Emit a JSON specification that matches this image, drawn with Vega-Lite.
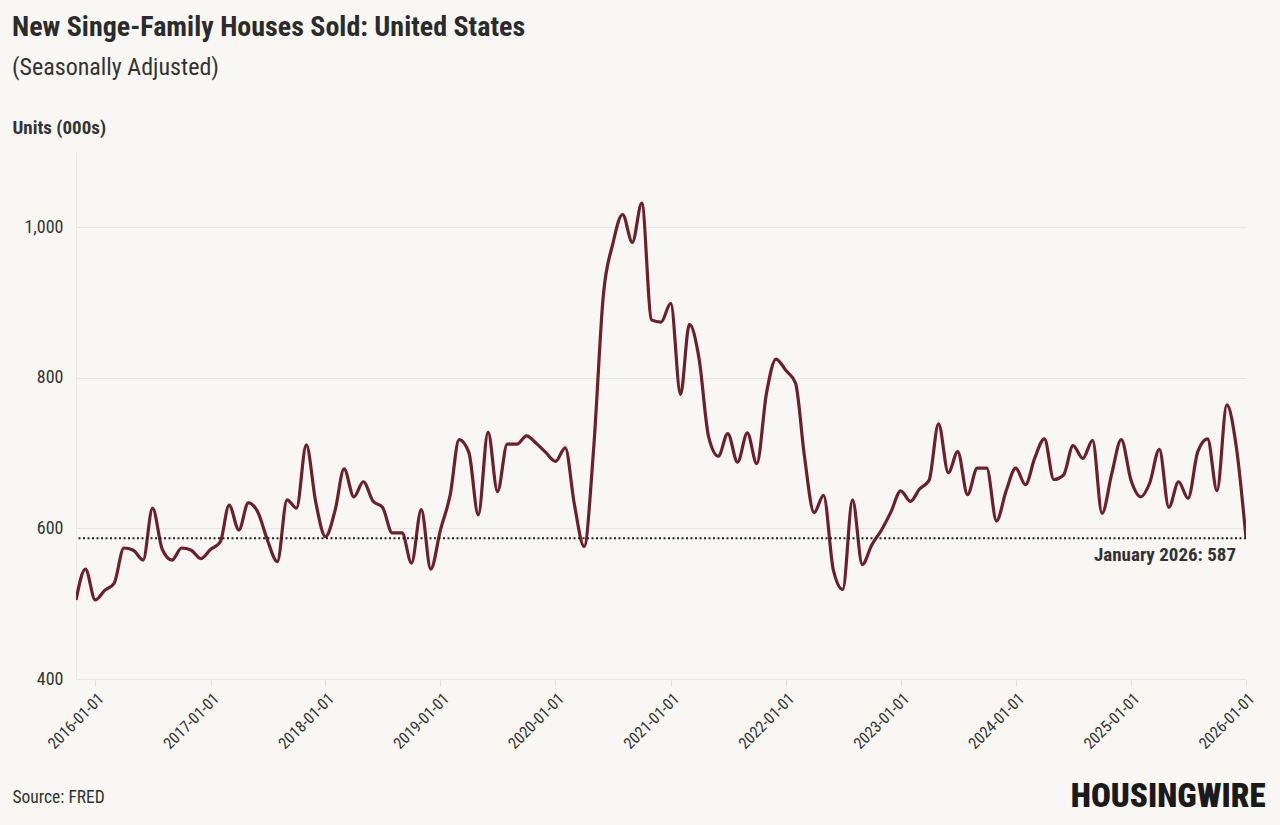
{
  "$schema": "https://vega.github.io/schema/vega-lite/v6.json",
  "width": 1170,
  "height": 527,
  "autosize": "none",
  "padding": {"left": 76, "top": 152, "right": 34, "bottom": 146},
  "background": "#f8f7f4",
  "config": {
    "font": "Roboto Condensed, Liberation Sans Narrow, Roboto",
    "view": {"stroke": null}
  },
  "title": {
    "text": "New Singe-Family Houses Sold: United States",
    "subtitle": "(Seasonally Adjusted)",
    "anchor": "start",
    "frame": "group",
    "dx": -64,
    "offset": 38,
    "fontSize": 28,
    "fontWeight": "bold",
    "color": "#2b2b2b",
    "subtitleFontSize": 24,
    "subtitleColor": "#333333",
    "subtitlePadding": 14
  },
  "datasets": {
    "sales": [
      {"date": "2015-11-01", "value": 505},
      {"date": "2015-12-01", "value": 546},
      {"date": "2016-01-01", "value": 505},
      {"date": "2016-02-01", "value": 518},
      {"date": "2016-03-01", "value": 527},
      {"date": "2016-04-01", "value": 574},
      {"date": "2016-05-01", "value": 571},
      {"date": "2016-06-01", "value": 558},
      {"date": "2016-07-01", "value": 627},
      {"date": "2016-08-01", "value": 572},
      {"date": "2016-09-01", "value": 558},
      {"date": "2016-10-01", "value": 574},
      {"date": "2016-11-01", "value": 571},
      {"date": "2016-12-01", "value": 560},
      {"date": "2017-01-01", "value": 572},
      {"date": "2017-02-01", "value": 582},
      {"date": "2017-03-01", "value": 631},
      {"date": "2017-04-01", "value": 598},
      {"date": "2017-05-01", "value": 634},
      {"date": "2017-06-01", "value": 621},
      {"date": "2017-07-01", "value": 584},
      {"date": "2017-08-01", "value": 556},
      {"date": "2017-09-01", "value": 638},
      {"date": "2017-10-01", "value": 627},
      {"date": "2017-11-01", "value": 711},
      {"date": "2017-12-01", "value": 635},
      {"date": "2018-01-01", "value": 589},
      {"date": "2018-02-01", "value": 625},
      {"date": "2018-03-01", "value": 679},
      {"date": "2018-04-01", "value": 642},
      {"date": "2018-05-01", "value": 662},
      {"date": "2018-06-01", "value": 636},
      {"date": "2018-07-01", "value": 628},
      {"date": "2018-08-01", "value": 594},
      {"date": "2018-09-01", "value": 594},
      {"date": "2018-10-01", "value": 554},
      {"date": "2018-11-01", "value": 625},
      {"date": "2018-12-01", "value": 546},
      {"date": "2019-01-01", "value": 598},
      {"date": "2019-02-01", "value": 645},
      {"date": "2019-03-01", "value": 718},
      {"date": "2019-04-01", "value": 701},
      {"date": "2019-05-01", "value": 618},
      {"date": "2019-06-01", "value": 728},
      {"date": "2019-07-01", "value": 649},
      {"date": "2019-08-01", "value": 712},
      {"date": "2019-09-01", "value": 712},
      {"date": "2019-10-01", "value": 723},
      {"date": "2019-11-01", "value": 713},
      {"date": "2019-12-01", "value": 701},
      {"date": "2020-01-01", "value": 689},
      {"date": "2020-02-01", "value": 707},
      {"date": "2020-03-01", "value": 632},
      {"date": "2020-04-01", "value": 576},
      {"date": "2020-05-01", "value": 705},
      {"date": "2020-06-01", "value": 910},
      {"date": "2020-07-01", "value": 978},
      {"date": "2020-08-01", "value": 1017},
      {"date": "2020-09-01", "value": 980},
      {"date": "2020-10-01", "value": 1032},
      {"date": "2020-11-01", "value": 877},
      {"date": "2020-12-01", "value": 874},
      {"date": "2021-01-01", "value": 899},
      {"date": "2021-02-01", "value": 778},
      {"date": "2021-03-01", "value": 871},
      {"date": "2021-04-01", "value": 825},
      {"date": "2021-05-01", "value": 722},
      {"date": "2021-06-01", "value": 696},
      {"date": "2021-07-01", "value": 726},
      {"date": "2021-08-01", "value": 688},
      {"date": "2021-09-01", "value": 727},
      {"date": "2021-10-01", "value": 686},
      {"date": "2021-11-01", "value": 780},
      {"date": "2021-12-01", "value": 825},
      {"date": "2022-01-01", "value": 810},
      {"date": "2022-02-01", "value": 793},
      {"date": "2022-03-01", "value": 697},
      {"date": "2022-04-01", "value": 621},
      {"date": "2022-05-01", "value": 644},
      {"date": "2022-06-01", "value": 545},
      {"date": "2022-07-01", "value": 519},
      {"date": "2022-08-01", "value": 638},
      {"date": "2022-09-01", "value": 552},
      {"date": "2022-10-01", "value": 578},
      {"date": "2022-11-01", "value": 598},
      {"date": "2022-12-01", "value": 622},
      {"date": "2023-01-01", "value": 650},
      {"date": "2023-02-01", "value": 636},
      {"date": "2023-03-01", "value": 652},
      {"date": "2023-04-01", "value": 664},
      {"date": "2023-05-01", "value": 739},
      {"date": "2023-06-01", "value": 674},
      {"date": "2023-07-01", "value": 702},
      {"date": "2023-08-01", "value": 645},
      {"date": "2023-09-01", "value": 680},
      {"date": "2023-10-01", "value": 680},
      {"date": "2023-11-01", "value": 610},
      {"date": "2023-12-01", "value": 649},
      {"date": "2024-01-01", "value": 680},
      {"date": "2024-02-01", "value": 658},
      {"date": "2024-03-01", "value": 693},
      {"date": "2024-04-01", "value": 719},
      {"date": "2024-05-01", "value": 665},
      {"date": "2024-06-01", "value": 671},
      {"date": "2024-07-01", "value": 710},
      {"date": "2024-08-01", "value": 693},
      {"date": "2024-09-01", "value": 717},
      {"date": "2024-10-01", "value": 620},
      {"date": "2024-11-01", "value": 673},
      {"date": "2024-12-01", "value": 718},
      {"date": "2025-01-01", "value": 664},
      {"date": "2025-02-01", "value": 642},
      {"date": "2025-03-01", "value": 660},
      {"date": "2025-04-01", "value": 705},
      {"date": "2025-05-01", "value": 628},
      {"date": "2025-06-01", "value": 662},
      {"date": "2025-07-01", "value": 640},
      {"date": "2025-08-01", "value": 702},
      {"date": "2025-09-01", "value": 719},
      {"date": "2025-10-01", "value": 650},
      {"date": "2025-11-01", "value": 764},
      {"date": "2025-12-01", "value": 709},
      {"date": "2026-01-01", "value": 587}
    ],
    "latest": [
      {"date": "2026-01-01", "value": 587, "label": "January 2026: 587"}
    ]
  },
  "layer": [
    {
      "data": {"name": "sales"},
      "mark": {"type": "line", "interpolate": "monotone", "color": "#6d1f2c", "strokeWidth": 3.2, "clip": true},
      "encoding": {
        "x": {
          "field": "date",
          "type": "temporal",
          "scale": {
            "type": "utc",
            "domain": [
              {"year": 2015, "month": 11, "date": 1, "utc": true},
              {"year": 2026, "month": 1, "date": 1, "utc": true}
            ]
          },
          "axis": {
            "values": [
              {"year": 2016, "month": 1, "date": 1, "utc": true},
              {"year": 2017, "month": 1, "date": 1, "utc": true},
              {"year": 2018, "month": 1, "date": 1, "utc": true},
              {"year": 2019, "month": 1, "date": 1, "utc": true},
              {"year": 2020, "month": 1, "date": 1, "utc": true},
              {"year": 2021, "month": 1, "date": 1, "utc": true},
              {"year": 2022, "month": 1, "date": 1, "utc": true},
              {"year": 2023, "month": 1, "date": 1, "utc": true},
              {"year": 2024, "month": 1, "date": 1, "utc": true},
              {"year": 2025, "month": 1, "date": 1, "utc": true},
              {"year": 2026, "month": 1, "date": 1, "utc": true}
            ],
            "format": "%Y-%m-%d",
            "labelAngle": -45,
            "labelAlign": "right",
            "labelBaseline": "top",
            "labelFontSize": 16,
            "labelColor": "#333333",
            "labelPadding": 4,
            "labelOverlap": false,
            "labelFlush": false,
            "domain": false,
            "grid": false,
            "ticks": true,
            "tickColor": "#e3e1dc",
            "tickSize": 7,
            "title": "Source: FRED",
            "titleX": -64,
            "titleY": 118,
            "titleAlign": "left",
            "titleBaseline": "middle",
            "titleAngle": 0,
            "titleFontSize": 17.5,
            "titleFontWeight": "normal",
            "titleColor": "#333333"
          }
        },
        "y": {
          "field": "value",
          "type": "quantitative",
          "scale": {"domain": [400, 1100], "nice": false, "zero": false},
          "axis": {
            "values": [400, 600, 800, 1000],
            "format": ",d",
            "labelFontSize": 18,
            "labelColor": "#333333",
            "labelPadding": 13,
            "domain": true,
            "domainColor": "#ebe9e4",
            "ticks": false,
            "grid": true,
            "gridColor": "#e8e6e1",
            "gridWidth": 1,
            "title": "Units (000s)",
            "titleX": -64,
            "titleY": -25,
            "titleAlign": "left",
            "titleBaseline": "middle",
            "titleAngle": 0,
            "titleFontSize": 19,
            "titleFontWeight": "bold",
            "titleColor": "#333333"
          }
        }
      }
    },
    {
      "data": {"name": "latest"},
      "mark": {"type": "rule", "color": "#222222", "strokeWidth": 2, "strokeDash": [2, 2.5]},
      "encoding": {
        "y": {"field": "value", "type": "quantitative"}
      }
    },
    {
      "data": {"name": "latest"},
      "mark": {"type": "text", "align": "right", "baseline": "middle", "dx": -10, "dy": 17, "fontSize": 19, "fontWeight": "bold", "color": "#333333"},
      "encoding": {
        "x": {
          "field": "date",
          "type": "temporal",
          "axis": {
            "orient": "top",
            "labels": false,
            "ticks": false,
            "domain": false,
            "grid": false,
            "title": "HOUSINGWIRE",
            "titleX": 1189,
            "titleY": 644,
            "titleAlign": "right",
            "titleBaseline": "middle",
            "titleAngle": 0,
            "titleFontSize": 33,
            "titleFontWeight": 900,
            "titleColor": "#1a1a1a"
          }
        },
        "y": {"field": "value", "type": "quantitative"},
        "text": {"field": "label"}
      }
    }
  ],
  "resolve": {"axis": {"x": "independent"}}
}
